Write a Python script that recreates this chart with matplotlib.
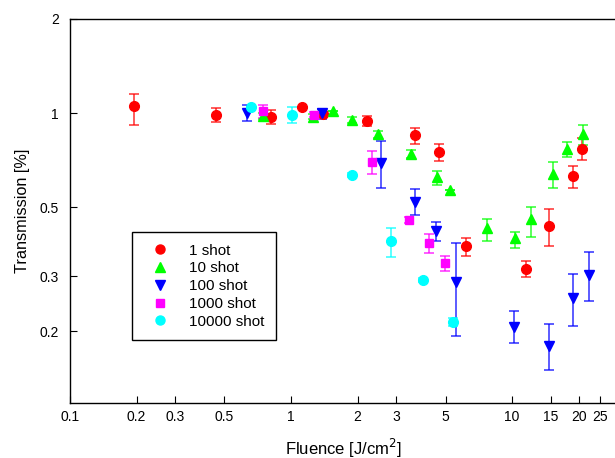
import matplotlib
matplotlib.use("Agg")
import matplotlib.pyplot as plt
from matplotlib.ticker import FixedLocator, FixedFormatter, NullLocator
from matplotlib.lines import Line2D
import numpy as np

plt.rcParams['font.family'] = ['Liberation Sans', 'DejaVu Sans']

# 1 shot
x_1 = [0.195, 0.458, 0.812, 1.121, 1.396, 2.20, 3.64, 4.69, 6.17, 11.6, 14.66, 18.8, 20.7]
y_1 = [1.055, 0.988, 0.973, 1.047, 0.995, 0.945, 0.848, 0.750, 0.374, 0.317, 0.436, 0.628, 0.770]
lo_1 = [0.917, 0.938, 0.924, 1.047, 0.980, 0.911, 0.797, 0.704, 0.349, 0.299, 0.376, 0.577, 0.709]
hi_1 = [1.153, 1.040, 1.025, 1.047, 1.010, 0.980, 0.893, 0.796, 0.398, 0.337, 0.493, 0.678, 0.834]

# 10 shot
x_10 = [0.745, 1.257, 1.55, 1.893, 2.476, 3.49, 4.56, 5.24, 7.68, 10.3, 12.15, 15.4, 17.8, 21.0]
y_10 = [0.982, 0.973, 1.017, 0.952, 0.857, 0.739, 0.624, 0.567, 0.428, 0.398, 0.458, 0.639, 0.767, 0.857]
lo_10 = [0.960, 0.955, 1.017, 0.931, 0.834, 0.720, 0.590, 0.567, 0.389, 0.370, 0.402, 0.575, 0.721, 0.792]
hi_10 = [1.000, 0.990, 1.017, 0.973, 0.878, 0.763, 0.653, 0.567, 0.458, 0.417, 0.502, 0.697, 0.805, 0.915]

# 100 shot
x_100 = [0.630, 1.377, 2.555, 3.63, 4.54, 5.56, 10.18, 14.75, 18.8, 22.4]
y_100 = [1.0, 1.0, 0.692, 0.521, 0.418, 0.288, 0.207, 0.180, 0.255, 0.304]
lo_100 = [0.945, 0.958, 0.575, 0.470, 0.390, 0.194, 0.184, 0.151, 0.208, 0.251]
hi_100 = [1.058, 1.032, 0.811, 0.572, 0.448, 0.383, 0.232, 0.211, 0.306, 0.360]

# 1000 shot
x_1000 = [0.749, 1.275, 2.33, 3.42, 4.23, 4.98]
y_1000 = [1.017, 0.988, 0.697, 0.455, 0.383, 0.331]
lo_1000 = [0.964, 0.970, 0.639, 0.445, 0.356, 0.313]
hi_1000 = [1.063, 1.005, 0.754, 0.465, 0.410, 0.349]

# 10000 shot
x_10000 = [0.659, 1.01, 1.893, 2.835, 3.94, 5.39]
y_10000 = [1.042, 0.988, 0.634, 0.390, 0.292, 0.214]
lo_10000 = [1.042, 0.929, 0.625, 0.347, 0.288, 0.208]
hi_10000 = [1.042, 1.042, 0.643, 0.430, 0.296, 0.220]

series = [
    ("1 shot", x_1, y_1, lo_1, hi_1, "o", "#ff0000"),
    ("10 shot", x_10, y_10, lo_10, hi_10, "^", "#00ff00"),
    ("100 shot", x_100, y_100, lo_100, hi_100, "v", "#0000ff"),
    ("1000 shot", x_1000, y_1000, lo_1000, hi_1000, "s", "#ff00ff"),
    ("10000 shot", x_10000, y_10000, lo_10000, hi_10000, "o", "#00ffff"),
]

xticks = [0.1, 0.2, 0.3, 0.5, 1, 2, 3, 5, 10, 15, 20, 25]
xtick_labels = ["0.1", "0.2", "0.3", "0.5", "1", "2", "3", "5", "10", "15", "20", "25"]
yticks = [0.2, 0.3, 0.5, 1, 2]
ytick_labels = ["0.2", "0.3", "0.5", "1", "2"]

fig = plt.figure(figsize=(6.15, 4.58), dpi=100)
ax = fig.add_axes([70 / 615, 55 / 458, 547.5 / 615, 384 / 458])

handles = []
for label, x, y, lo, hi, mk, col in series:
    y = np.array(y)
    yerr = [y - np.array(lo), np.array(hi) - y]
    ms = 6 if mk == "s" else 7
    eb = ax.errorbar(x, y, yerr=yerr, fmt=mk, color=col, ms=ms, mec=col,
                     ecolor=col, elinewidth=1.2, capsize=3.6, capthick=1.2)
    for c in eb[1]:
        c.set_alpha(0.75)
    for c in eb[2]:
        c.set_alpha(0.75)
    handles.append(Line2D([], [], ls="none", marker=mk, color=col, ms=ms - 0.5))

ax.set_xscale("log")
ax.set_yscale("log")
ax.set_xlim(0.1, 30)
ax.set_ylim(0.118, 2)

ax.xaxis.set_major_locator(FixedLocator(xticks))
ax.xaxis.set_major_formatter(FixedFormatter(xtick_labels))
ax.xaxis.set_minor_locator(NullLocator())
ax.yaxis.set_major_locator(FixedLocator(yticks))
ax.yaxis.set_major_formatter(FixedFormatter(ytick_labels))
ax.yaxis.set_minor_locator(NullLocator())
ax.tick_params(direction="in", length=5, width=0.8, labelsize=10, pad=5)
ax.tick_params(axis="y", pad=8)

for s in ax.spines.values():
    s.set_linewidth(1.0)

ax.set_xlabel("Fluence [J/cm$^2$]", fontsize=12, labelpad=9)
ax.set_ylabel("Transmission [%]", fontsize=11.7, labelpad=6.7)

leg = ax.legend(handles, [s[0] for s in series], loc="upper left",
                bbox_to_anchor=(0.113, 0.445), fontsize=11, frameon=True,
                fancybox=False, edgecolor="black", framealpha=1,
                handletextpad=0.8, labelspacing=0.245, borderpad=0.76,
                handlelength=2.2, borderaxespad=0)
leg.get_frame().set_linewidth(1.0)

fig.savefig("out.png", dpi=100)
